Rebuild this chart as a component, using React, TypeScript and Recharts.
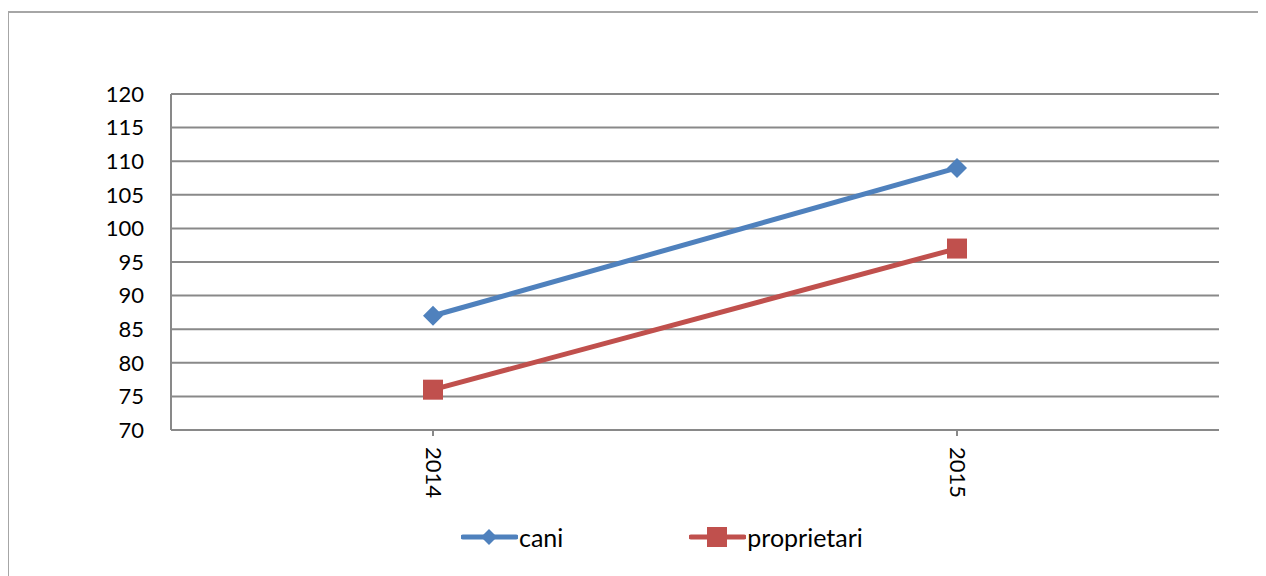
import React from 'react';
import { LineChart, Line, XAxis, YAxis, CartesianGrid, Legend } from 'recharts';

const years = ['2014', '2015'];
const cani = [87, 109];
const proprietari = [76, 97];
const yTicks = [70, 75, 80, 85, 90, 95, 100, 105, 110, 115, 120];

const data = years.map((y, i) => ({ year: y, cani: cani[i], proprietari: proprietari[i] }));

const BLUE = '#4f81bd';
const RED = '#c0504d';
const GRID = '#898989';
const FONT = 'Lato, "Open Sans", sans-serif';

const Diamond = (props: any) => {
  const { cx, cy } = props;
  if (cx == null || cy == null) return null;
  const r = 10;
  return <path d={`M${cx},${cy - r}L${cx + r},${cy}L${cx},${cy + r}L${cx - r},${cy}Z`} fill={BLUE} />;
};

const Square = (props: any) => {
  const { cx, cy } = props;
  if (cx == null || cy == null) return null;
  return <rect x={cx - 10} y={cy - 10} width={20} height={20} fill={RED} />;
};

const LegendContent = () => {
  const items = [
    { name: 'cani', color: BLUE, shape: 'diamond' },
    { name: 'proprietari', color: RED, shape: 'square' },
  ];
  return (
    <div style={{ display: 'flex', alignItems: 'center', fontFamily: FONT, fontSize: 25, color: '#000', height: 24 }}>
      {items.map((it, i) => (
        <div key={it.name} style={{ display: 'flex', alignItems: 'center', marginRight: i === 0 ? 126 : 0 }}>
          <svg width={57} height={22}>
            <line x1={2} y1={11} x2={55} y2={11} stroke={it.color} strokeWidth={5} strokeLinecap="round" />
            {it.shape === 'diamond' ? (
              <path d="M28,3L36,11L28,19L20,11Z" fill={it.color} />
            ) : (
              <rect x={18} y={1} width={20} height={20} fill={it.color} />
            )}
          </svg>
          <span style={{ marginLeft: 1 }}>{it.name}</span>
        </div>
      ))}
    </div>
  );
};

const XTick = (props: any) => {
  const { x, y, payload } = props;
  return (
    <g transform={`translate(${x},${y})`}>
      <line x1={0} y1={-8} x2={0} y2={-2} stroke={GRID} strokeWidth={2} />
      <text transform="rotate(90)" x={9} y={0} dy={7} textAnchor="start" fontFamily={FONT} fontSize={22} fill="#000">
        {payload.value}
      </text>
    </g>
  );
};

export default function App() {
  return (
    <div style={{ position: 'relative', width: 1258, height: 568, overflow: 'hidden', background: '#fff' }}>
      <div
        style={{
          position: 'absolute',
          left: -1,
          top: 3,
          width: 1300,
          height: 600,
          border: '2px solid #a6a6a6',
          boxSizing: 'border-box',
        }}
      />
      <div style={{ position: 'absolute', left: 0, top: 0 }}>
        <LineChart width={1258} height={568} data={data} margin={{ top: 86, right: 47, left: 103, bottom: 62 }}>
          <CartesianGrid horizontal vertical={false} stroke={GRID} strokeWidth={2} />
          <XAxis
            dataKey="year"
            scale="band"
            axisLine={{ stroke: GRID, strokeWidth: 2 }}
            tickLine={false}
            tick={<XTick />}
            height={60}
            interval={0}
          />
          <YAxis
            domain={[70, 120]}
            ticks={yTicks}
            width={60}
            axisLine={{ stroke: GRID, strokeWidth: 2 }}
            tickLine={false}
            tickMargin={21}
            tick={{ fontFamily: FONT, fontSize: 22, fill: '#000' }}
            interval={0}
          />
          <Legend
            content={<LegendContent />}
            wrapperStyle={{ left: 453, top: 517, width: 'auto' }}
          />
          <Line
            dataKey="cani"
            stroke={BLUE}
            strokeWidth={5}
            dot={<Diamond />}
            activeDot={false}
            isAnimationActive={false}
          />
          <Line
            dataKey="proprietari"
            stroke={RED}
            strokeWidth={5}
            dot={<Square />}
            activeDot={false}
            isAnimationActive={false}
          />
        </LineChart>
      </div>
    </div>
  );
}
